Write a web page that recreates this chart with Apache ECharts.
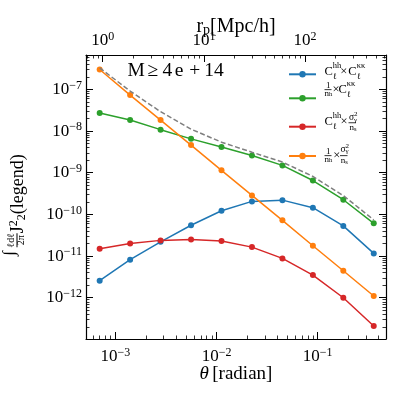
<!DOCTYPE html>
<html>
<head>
<meta charset="utf-8">
<script src="https://cdn.jsdelivr.net/npm/echarts@6/dist/echarts.min.js"></script>
<style>
html, body { margin: 0; padding: 0; background: #fff; }
#chart { width: 399px; height: 399px; }
</style>
</head>
<body>
<div id="chart"></div>
<script>
// angular bins (radian)
const theta = [7.0e-4, 1.4e-3, 2.8e-3, 5.6e-3, 1.12e-2, 2.24e-2, 4.48e-2, 8.96e-2, 0.179, 0.358];
// C_hh x C_kk
const hhKK = [2.56e-12, 8.2e-12, 2.2e-11, 5.5e-11, 1.22e-10, 2.05e-10, 2.2e-10, 1.45e-10, 5.3e-11, 1.16e-11];
// 1/n_h x C_kk
const nhKK = [2.7e-8, 1.84e-8, 1.08e-8, 6.5e-9, 4.13e-9, 2.6e-9, 1.5e-9, 6.5e-10, 2.25e-10, 6.1e-11];
// C_hh x sigma^2/n_s
const hhShape = [1.5e-11, 2.0e-11, 2.38e-11, 2.5e-11, 2.3e-11, 1.64e-11, 8.8e-12, 3.5e-12, 1.0e-12, 2.1e-13];
// 1/n_h x sigma^2/n_s
const nhShape = [3.0e-7, 7.3e-8, 1.83e-8, 4.6e-9, 1.14e-9, 2.86e-10, 7.2e-11, 1.77e-11, 4.45e-12, 1.1e-12];
// total (grey dashed)
const total = [3.27e-7, 9.14e-8, 2.91e-8, 1.11e-8, 5.41e-9, 3.11e-9, 1.80e-9, 8.16e-10, 2.83e-10, 7.4e-11];

const xLim = [Math.pow(10, -3.29), Math.pow(10, -0.325)];
const yLim = [Math.pow(10, -12.99), Math.pow(10, -6.175)];
const rpLim = [Math.pow(10, -0.165), Math.pow(10, 2.80)];

const S = '"Liberation Serif", "DejaVu Serif", serif';
const chart = echarts.init(document.getElementById('chart'));

const pow10Label = (v) => {
    const lg = Math.log10(v);
    const e = Math.round(lg);
    if (Math.abs(lg - e) > 1e-6) return '';
    return '{b|10}{e|' + (e < 0 ? '\u2212' + (-e) : e) + '}';
};
const tickRich = {
    b: { fontFamily: S, fontSize: 17, color: '#000', lineHeight: 20 },
    e: { fontFamily: S, fontSize: 12, color: '#000', lineHeight: 20, padding: [0, 0, 8, 0] }
};

const logAxis = (extra) => Object.assign({
    type: 'log',
    logBase: 10,
    nameMoveOverlap: false,
    axisLine: { show: true, onZero: false, lineStyle: { color: '#000', width: 1.2 } },
    axisTick: { show: true, inside: true, length: 7, lineStyle: { color: '#000', width: 1 } },
    minorTick: { show: true, splitNumber: 9, length: 3.5, lineStyle: { color: '#000', width: 0.8 } },
    splitLine: { show: false },
    minorSplitLine: { show: false },
    axisLabel: { formatter: pow10Label, rich: tickRich, margin: 7.5 }
}, extra);

// echarts text style pieces (axis names, title)
const txt = (size, lh, extra) => Object.assign({ fontFamily: S, fontSize: size, color: '#000', lineHeight: lh }, extra);
const ghost = (size, lh, extra) => Object.assign(txt(size, lh, extra), { color: 'rgba(0,0,0,0)' });

const yNameRich = {
    yi: txt(17, 10, { padding: [0, 0, 14, 0] }),
    yix: ghost(17, 10),
    yw: { width: 4, height: 1, lineHeight: 10 },
    ybar: { width: 14, height: 1, backgroundColor: '#000', lineHeight: 10 },
    ynum: txt(10, 10, { width: 14, padding: [9.6, 0, 0, 0] }),
    yden: txt(10, 10, { width: 14, padding: [0, 0, 12, 0] }),
    yj: txt(18, 10, { padding: [2.6, 0, 0, 0] }),
    yjx: ghost(18, 10),
    ysup: txt(12, 10, { padding: [0, 0, 5.8, 0] }),
    ysupx: ghost(12, 10),
    ysub: txt(12, 10, { padding: [9.6, 0, 0, 0] }),
    ysubx: ghost(12, 10)
};
const yTail = '{yj|J}{ysup|2}{ysub|2}{yj|(legend)}';
const yTailX = '{yjx|J}{ysupx|2}{ysubx|2}{yjx|(legend)}';
const yName = '{yix|\u222b}{yw|}{ynum|\u2113d\u2113}' + yTailX + '\n' +
              '{yi|\u222b}{yw|}{ybar|}' + yTail + '\n' +
              '{yix|\u222b}{yw|}{yden|2\u03c0}' + yTailX;

// legend labels (drawn as graphic text next to the legend keys)
const lgRich = {
    a: { fontFamily: S, fontSize: 12.5, fill: '#000', lineHeight: 14 },
    sup: { fontFamily: S, fontSize: 8.5, fill: '#000', lineHeight: 14, padding: [0, 0, 12, 0] },
    sub0: { fontFamily: S, fontSize: 8.5, fill: '#000', lineHeight: 14, width: 0, padding: [10, 0, 0, 0] },
    f: { fontFamily: S, fontSize: 9, fill: '#000', lineHeight: 10 },
    fs: { fontFamily: S, fontSize: 6.5, fill: '#000', lineHeight: 10, padding: [3, 0, 0, 0] },
    g: { fontFamily: S, fontSize: 9.5, fill: '#000', lineHeight: 10 },
    g2: { fontFamily: S, fontSize: 7, fill: '#000', lineHeight: 10, width: 0, padding: [0, 0, 7, 0] },
    gs: { fontFamily: S, fontSize: 7, fill: '#000', lineHeight: 10, padding: [4, 0, 0, 0] }
};
const LT = (x, y, text) => ({
    type: 'text', x: x, y: y, silent: true,
    style: { text: text, rich: lgRich, fill: '#000', align: 'left', verticalAlign: 'middle' }
});
const LB = (x, y, w) => ({
    type: 'rect', silent: true,
    shape: { x: x, y: y - 0.4, width: w, height: 0.8 },
    style: { fill: '#000' }
});
const legendLabels = [
    LT(324.5, 72, '{a|C}{sub0|\u2113}{sup|hh}'), LT(340.2, 72, '{a|\u00d7}'),
    LT(348.3, 72, '{a|C}{sub0|\u2113}{sup|\u03ba\u03ba}'),

    LT(326, 86, '{f|1}'), LB(324.5, 89.7, 7), LT(324.6, 93.2, '{f|n}{fs|h}'),
    LT(332.6, 89.7, '{a|\u00d7}'), LT(338.5, 89.7, '{a|C}{sub0|\u2113}{sup|\u03ba\u03ba}'),

    LT(324.5, 121.7, '{a|C}{sub0|\u2113}{sup|hh}'), LT(340.4, 121.7, '{a|\u00d7}'),
    LT(349, 117.8, '{g|\u03c3}{g2|2}{gs|\u03b3}'), LB(348.5, 122.8, 7.5), LT(349.5, 128, '{f|n}{fs|s}'),

    LT(326, 151.6, '{f|1}'), LB(324.5, 155.7, 7), LT(324.6, 159.2, '{f|n}{fs|h}'),
    LT(333.2, 155.3, '{a|\u00d7}'),
    LT(340.5, 149.5, '{g|\u03c3}{g2|2}{gs|\u03b3}'), LB(340, 155.7, 7.5), LT(340.8, 160.5, '{f|n}{fs|s}')
];

const mk = (name, ys, color) => ({
    name: name,
    type: 'line',
    data: theta.map((t, i) => [t, ys[i]]),
    symbol: 'circle',
    symbolSize: 6,
    lineStyle: { color: color, width: 1.5 },
    itemStyle: { color: color },
    z: 3
});

const option = {
    animation: false,
    backgroundColor: '#fff',
    title: {
        text: '{m|M}{r|\u2265}{n|4}{o|e}{p|+}{q|14}',
        left: 127.5, top: 61, padding: 0,
        textStyle: {
            fontFamily: S, fontSize: 19.5, fontWeight: 'normal', color: '#000',
            rich: {
                m: txt(19.5, 20, { width: 20 }),
                r: txt(19.5, 20, { width: 15 }),
                n: txt(19.5, 20, { width: 12.3 }),
                o: txt(19.5, 20, { width: 14.4 }),
                p: txt(19.5, 20, { width: 15 }),
                q: txt(19.5, 20)
            }
        }
    },
    grid: { left: 86, right: 13, top: 55, bottom: 60, outerBoundsMode: 'none' },
    legend: {
        orient: 'vertical',
        left: 288, top: 64.3,
        padding: 0,
        itemWidth: 27, itemHeight: 8, itemGap: 0,
        data: ['hhKK', 'nhKK', 'hhShape', 'nhShape'],
        formatter: (n) => ({ hhKK: '{h1|}', nhKK: '{h2|}', hhShape: '{h3|}', nhShape: '{h4|}' })[n],
        textStyle: { rich: {
            h1: { width: 1, height: 20, lineHeight: 20 },
            h2: { width: 1, height: 28, lineHeight: 28 },
            h3: { width: 1, height: 28.8, lineHeight: 28.8 },
            h4: { width: 1, height: 29.8, lineHeight: 29.8 }
        } },
        selectedMode: false
    },
    graphic: legendLabels,
    xAxis: [
        logAxis({
            position: 'bottom', min: xLim[0], max: xLim[1],
            name: '{t|\u03b8} {r|[radian]}', nameLocation: 'middle', nameGap: 25,
            nameTextStyle: { rich: { t: txt(19, 20, { fontStyle: 'italic' }), r: txt(19, 20) } }
        }),
        logAxis({
            position: 'top', min: rpLim[0], max: rpLim[1],
            name: '{t|r}{s|p}{t|[Mpc/h]}', nameLocation: 'middle', nameGap: 18.7,
            nameTextStyle: { rich: { t: txt(20, 20), s: txt(14, 20, { padding: [8, 0, 0, 0] }) } },
            axisLabel: { formatter: pow10Label, rich: tickRich, margin: 4.5 }
        })
    ],
    yAxis: [
        logAxis({
            position: 'left', min: yLim[0], max: yLim[1],
            name: yName,
            nameLocation: 'middle', nameRotate: 90, nameGap: 54,
            nameTextStyle: { rich: yNameRich, padding: [0, 16, 0, 0] },
            axisLabel: { formatter: pow10Label, rich: tickRich, margin: 4 }
        }),
        logAxis({
            position: 'right', min: yLim[0], max: yLim[1],
            axisLabel: { show: false }
        })
    ],
    series: [
        mk('hhKK', hhKK, '#1f77b4'),
        mk('nhKK', nhKK, '#2ca02c'),
        mk('hhShape', hhShape, '#d62728'),
        mk('nhShape', nhShape, '#ff7f0e'),
        {
            name: 'total',
            type: 'line',
            data: theta.map((t, i) => [t, total[i]]),
            symbol: 'none',
            lineStyle: { color: '#7f7f7f', width: 1.5, type: [5, 2.5] },
            z: 4,
            silent: true
        }
    ]
};
chart.setOption(option);
</script>
</body>
</html>
